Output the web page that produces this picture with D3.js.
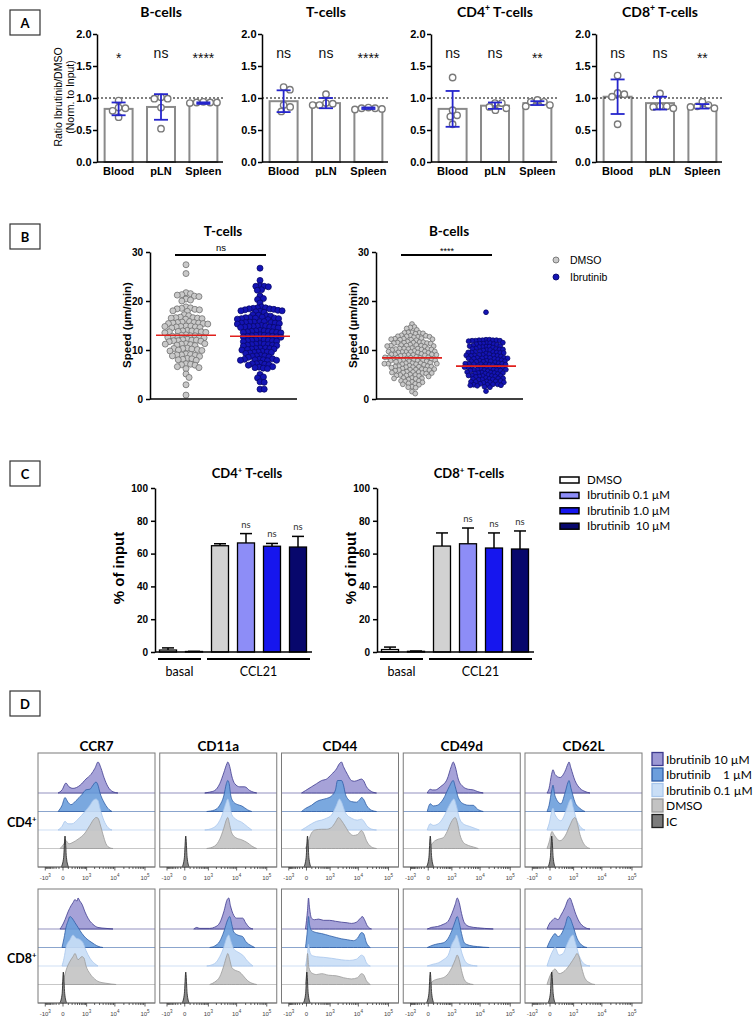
<!DOCTYPE html>
<html>
<head>
<meta charset="utf-8">
<script src="https://cdn.jsdelivr.net/npm/d3@7"></script>
<style>
  body { margin: 0; background: #fff; }
  svg { display: block; }
</style>
</head>
<body>
<svg id="fig" width="754" height="1023"></svg>
<script>
const ARIAL = '"Liberation Sans", Arial, sans-serif';
const CAL = 'Lato, "Open Sans", sans-serif';

// ---------- Panel A : ratio Ibrutinib / DMSO ----------
const aCells = ["B-cells", "T-cells", "CD4+ T-cells", "CD8+ T-cells"];
const aOrgans = ["Blood", "pLN", "Spleen"];
const aMean = [[0.83, 0.86, 0.92], [0.95, 0.92, 0.84], [0.83, 0.88, 0.92], [1.02, 0.92, 0.87]];
const aSD = [[0.10, 0.20, 0.012], [0.17, 0.08, 0.012], [0.28, 0.05, 0.03], [0.27, 0.10, 0.035]];
const aPoints = [
  [[0.96, 0.84, 0.85, 0.70, 0.80], [1.01, 0.99, 0.99, 0.85, 0.52], [0.93, 0.93, 0.92, 0.93, 0.94]],
  [[1.17, 1.13, 0.89, 0.79, 0.86], [1.06, 0.92, 0.89, 0.89, 0.91], [0.84, 0.82, 0.83, 0.84, 0.85]],
  [[1.32, 0.81, 0.59, 0.71, 0.73], [0.92, 0.81, 0.92, 0.86, 0.84], [0.97, 0.94, 0.89, 0.87, 0.94]],
  [[1.35, 1.06, 1.02, 1.08, 0.59], [1.07, 0.87, 0.84, 0.87, 0.86], [0.94, 0.87, 0.86, 0.89, 0.84]]
];
const aSig = [["*", "ns", "****"], ["ns", "ns", "****"], ["ns", "ns", "**"], ["ns", "ns", "**"]];
const aTicks = [0, 0.5, 1, 1.5, 2];

// ---------- Panel B : speed ----------
const bGroups = ["DMSO", "Ibrutinib"];
const tDmso = [27.4, 25.6,
  21.7, 21.5, 21.2, 21.0, 20.9, 21.3, 20.4, 20.2, 20.0,
  18.8, 18.6, 18.5, 18.4, 18.3, 18.2, 18.0, 17.9, 17.2, 17.0,
  16.7, 16.6, 16.5, 16.4, 16.3, 16.6, 16.5,
  15.8, 15.7, 15.6, 15.5, 15.5, 15.4, 15.3, 15.6, 15.4,
  14.9, 14.8, 14.8, 14.7, 14.6, 14.7, 14.9, 14.5,
  13.9, 13.8, 13.8, 13.7, 13.6, 14.0, 13.9, 13.7, 13.5,
  13.0, 12.9, 12.8, 12.8, 12.7, 12.9, 13.1, 12.6, 12.5,
  12.1, 12.0, 11.9, 11.8, 12.0, 12.2, 11.9, 11.7,
  11.3, 11.2, 11.1, 11.0, 11.2, 10.9, 11.3,
  10.4, 10.3, 10.2, 10.1, 10.0, 10.3, 9.9, 9.8,
  9.2, 9.1, 9.0, 8.9, 8.8, 9.0, 8.7,
  8.2, 8.1, 8.0, 7.9, 8.3, 7.2, 7.1, 7.0, 6.9, 6.4, 6.2, 6.6,
  5.1, 4.4, 2.9, 0.8];
const tIbr = [26.7, 24.2, 23.1, 23.0, 22.9, 23.0, 22.3, 22.2, 21.0, 20.5, 20.3, 19.6,
  18.8, 18.6, 18.5, 18.4, 18.3, 18.6, 18.2, 18.4, 18.0, 17.9, 18.1, 17.8, 18.0, 17.7,
  17.1, 17.0, 17.2, 16.9,
  16.6, 16.5, 16.4, 16.5, 16.3, 16.6, 16.2, 16.4, 16.7,
  15.8, 15.7, 15.6, 15.5, 15.6, 15.4, 15.7, 15.3, 15.5, 15.8,
  14.9, 14.8, 14.7, 14.8, 14.6, 14.9, 14.5, 14.7, 15.0, 14.6,
  13.9, 13.8, 13.7, 13.8, 13.6, 14.0, 13.5, 13.9, 13.7, 13.6,
  13.0, 12.9, 12.8, 12.9, 12.7, 13.1, 12.6, 12.8, 13.0, 12.7,
  12.1, 12.0, 11.9, 12.0, 11.8, 12.2, 11.7, 11.9, 12.1,
  11.2, 11.1, 11.0, 11.2, 10.9, 11.3, 10.8, 11.1, 11.0,
  10.4, 10.3, 10.2, 10.1, 10.3, 10.0, 10.4, 10.2,
  9.6, 9.5, 9.4, 9.6, 9.3, 9.7, 9.5,
  8.8, 8.7, 8.6, 8.8, 8.5, 8.9,
  8.1, 8.0, 7.9, 8.1, 7.8, 8.2, 8.0, 7.9,
  7.3, 7.2, 7.1, 7.0, 7.2, 6.9, 6.6, 6.4, 6.3, 6.5, 6.2,
  5.0, 4.5, 4.3, 3.5, 3.4, 2.0, 2.0];
const bDmso = [15.3, 14.7, 14.6, 14.4, 14.1,
  13.6, 13.5, 13.4, 13.6, 13.3, 13.5,
  12.9, 12.8, 12.7, 12.9, 12.6, 12.8, 13.0, 12.7,
  12.3, 12.2, 12.1, 12.3, 12.0, 12.2, 12.4, 12.1,
  11.6, 11.5, 11.4, 11.6, 11.3, 11.5, 11.7, 11.4, 11.5,
  11.0, 10.9, 10.8, 11.0, 10.7, 10.9, 11.1, 10.8, 10.9,
  10.3, 10.2, 10.1, 10.3, 10.0, 10.2, 10.4, 10.1, 10.2, 10.3,
  9.7, 9.6, 9.5, 9.7, 9.4, 9.6, 9.8, 9.5, 9.6, 9.7,
  9.1, 9.0, 8.9, 9.1, 8.8, 9.0, 9.2, 8.9, 9.0, 9.1,
  8.5, 8.4, 8.3, 8.5, 8.2, 8.4, 8.6, 8.3, 8.4, 8.5,
  7.9, 7.8, 7.7, 7.9, 7.6, 7.8, 8.0, 7.7, 7.8, 7.9,
  7.3, 7.2, 7.1, 7.3, 7.0, 7.2, 7.4, 7.1, 7.2, 7.3,
  6.7, 6.6, 6.5, 6.7, 6.4, 6.6, 6.8, 6.5, 6.6,
  6.1, 6.0, 5.9, 6.1, 5.8, 6.0, 6.2, 5.9, 6.0,
  5.5, 5.4, 5.3, 5.5, 5.2, 5.4, 5.6, 5.3,
  4.9, 4.8, 4.7, 4.9, 4.6, 4.8, 5.0,
  4.3, 4.2, 4.1, 4.3, 4.0, 4.2,
  3.7, 3.6, 3.5, 3.7, 3.4, 3.1, 3.0, 2.9, 3.2,
  2.5, 2.4, 2.3, 1.5, 1.1];
const bIbr = [17.7,
  12.1, 12.0, 11.9, 12.0, 11.9, 12.1, 11.8, 12.0, 11.9, 12.0,
  11.4, 11.3, 11.2, 11.4, 11.1, 11.3, 11.5, 11.2,
  10.8, 10.7, 10.6, 10.8, 10.5, 10.7, 10.9, 10.6,
  10.2, 10.1, 10.0, 10.2, 9.9, 10.1, 10.3, 10.0,
  9.6, 9.5, 9.4, 9.6, 9.3, 9.5, 9.7, 9.4, 9.5,
  9.0, 8.9, 8.8, 9.0, 8.7, 8.9, 9.1, 8.8, 8.9,
  8.4, 8.3, 8.2, 8.4, 8.1, 8.3, 8.5, 8.2, 8.3, 8.4,
  7.8, 7.7, 7.6, 7.8, 7.5, 7.7, 7.9, 7.6, 7.7,
  7.2, 7.1, 7.0, 7.2, 6.9, 7.1, 7.3, 7.0, 7.1, 7.2,
  6.6, 6.5, 6.4, 6.6, 6.3, 6.5, 6.7, 6.4, 6.5, 6.6,
  6.0, 5.9, 5.8, 6.0, 5.7, 5.9, 6.1, 5.8, 5.9, 6.0,
  5.4, 5.3, 5.2, 5.4, 5.1, 5.3, 5.5, 5.2, 5.3,
  4.8, 4.7, 4.6, 4.8, 4.5, 4.7, 4.9, 4.6, 4.7,
  4.2, 4.1, 4.0, 4.2, 3.9, 4.1, 4.3, 4.0,
  3.6, 3.5, 3.4, 3.6, 3.3, 3.5, 3.7, 3.4,
  3.0, 2.9, 2.8, 3.0, 2.7, 2.9, 3.1, 2.8,
  2.5, 2.4, 1.6];
const tMedian = [13.0, 12.8];
const bMedian = [8.4, 6.7];

// ---------- Panel C : transwell migration ----------
const cConds = ["DMSO", "Ibrutinib 0.1 µM", "Ibrutinib 1.0 µM", "Ibrutinib  10 µM"];
const cd4Basal = [1.2, 0.3], cd4BasalErr = [2.5, 0.4];
const cd4Ccl21 = [64.8, 66.5, 64.5, 64.0], cd4Ccl21Err = [66.0, 72.2, 66.2, 70.5];
const cd8Basal = [1.5, 0.4], cd8BasalErr = [3.0, 0.6];
const cd8Ccl21 = [64.6, 66.0, 63.4, 62.8], cd8Ccl21Err = [72.6, 75.6, 72.6, 73.8];
const cSig = ["", "ns", "ns", "ns"];

// ---------- Panel D : flow histograms, knots [fluorescence, mode-normalised count] ----------
const dMarkers = ["CCR7", "CD11a", "CD44", "CD49d", "CD62L"];
const dConds = ["Ibrutinib 10 µM", "Ibrutinib    1 µM", "Ibrutinib 0.1 µM", "DMSO", "IC"];
const dTicks = [-1000, 0, 1000, 10000, 100000];
const dTickLabels = [["-10", "3"], ["0", ""], ["10", "3"], ["10", "4"], ["10", "5"]];

const cd4CCR7 = [
  [[-130,0],[-20,0.1],[50,0.32],[115,0.2],[230,0.15],[530,0.25],[940,0.45],[1470,0.6],[2060,0.8],[2640,1],[3370,0.8],[4280,0.5],[5870,0.2],[8660,0.04],[12700,0]],
  [[-130,0],[-20,0.2],[33,0.45],[92,0.3],[167,0.22],[336,0.35],[644,0.55],[944,0.7],[1349,0.72],[1744,0.85],[2241,0.95],[2640,0.85],[3105,0.6],[4277,0.3],[5866,0.1],[8014,0]],
  [[-130,0],[-20,0.12],[33,0.28],[92,0.2],[196,0.2],[424,0.35],[861,0.6],[1349,0.8],[1744,0.95],[2241,1],[2640,0.95],[3105,0.7],[4277,0.3],[5866,0.08],[8014,0]],
  [[-70,0],[16,0.15],[51,0.25],[115,0.15],[227,0.2],[424,0.3],[861,0.5],[1349,0.75],[1897,0.95],[2241,1],[2640,0.98],[3105,0.8],[3952,0.45],[5011,0.15],[6856,0.02],[8660,0]],
  [[-40,0],[10,0.3],[33,1],[60,0.3],[105,0]]
];
const cd4CD11a = [
  [[711,0],[1131,0.03],[1744,0.08],[2640,0.3],[3648,0.65],[4700,0.95],[5011,1],[5866,0.85],[6856,0.55],[8660,0.3],[12740,0.2],[18700,0.2],[27420,0.08],[46780,0]],
  [[861,0],[1744,0.05],[2640,0.2],[3648,0.5],[4500,0.9],[5011,1],[5600,0.9],[6400,0.5],[8014,0.3],[11000,0.22],[14850,0.18],[23530,0.05],[32000,0]],
  [[711,0],[1349,0.05],[2241,0.2],[3105,0.45],[4277,0.85],[5011,1],[5866,0.8],[6856,0.5],[9360,0.35],[14850,0.25],[23530,0.1],[32000,0]],
  [[861,0],[1744,0.08],[2640,0.3],[3648,0.65],[4600,0.95],[5011,1],[5866,0.75],[6856,0.5],[9360,0.35],[14850,0.28],[23530,0.18],[32000,0.08],[46780,0]],
  [[-60,0],[-8,0.3],[16,1],[40,0.3],[80,0]]
];
const cd4CD44 = [
  [[-130,0],[-20,0.08],[92,0.2],[227,0.3],[424,0.4],[711,0.45],[1131,0.6],[1744,0.78],[2241,0.95],[2640,1],[3105,0.85],[4277,0.6],[5866,0.4],[7400,0.38],[10140,0.42],[12740,0.45],[14850,0.4],[18700,0.2],[27420,0.05],[40160,0]],
  [[-130,0],[-20,0.1],[92,0.2],[227,0.32],[424,0.38],[711,0.42],[1131,0.5],[1600,0.7],[1897,1],[2640,1],[3105,0.85],[3648,0.55],[4277,0.42],[5866,0.32],[8660,0.3],[11000,0.38],[12740,0.45],[14850,0.4],[18700,0.2],[27420,0.04],[40160,0]],
  [[-130,0],[-20,0.08],[92,0.2],[227,0.28],[424,0.32],[711,0.38],[1131,0.48],[1744,0.8],[2241,1],[2640,0.9],[3648,0.55],[5866,0.38],[9360,0.32],[12740,0.35],[14850,0.3],[18700,0.15],[27420,0.03],[40160,0]],
  [[-21,0],[33,0.25],[92,0.5],[196,0.6],[424,0.62],[711,0.62],[1131,0.68],[1600,0.85],[2062,1],[2640,0.9],[3648,0.7],[5011,0.5],[6856,0.42],[9360,0.45],[12740,0.58],[14850,0.5],[18700,0.25],[27420,0.05],[40160,0]],
  [[-60,0],[-8,0.3],[16,1],[40,0.3],[80,0]]
];
const cd4CD49d = [
  [[-21,0],[33,0.12],[70,0.1],[140,0.1],[300,0.2],[640,0.45],[940,0.85],[1131,1],[1350,0.85],[1744,0.45],[2640,0.2],[4000,0.12],[5900,0.1],[8000,0.05],[12700,0]],
  [[-21,0],[33,0.25],[92,0.18],[196,0.2],[424,0.4],[780,0.8],[1131,1],[1349,0.8],[1744,0.45],[2640,0.25],[4277,0.2],[5866,0.2],[8014,0.08],[12740,0]],
  [[-21,0],[33,0.2],[92,0.15],[227,0.2],[424,0.4],[860,0.85],[1200,1],[1470,0.8],[1897,0.4],[2640,0.2],[4277,0.12],[6856,0.05],[9360,0]],
  [[16,0],[92,0.2],[227,0.3],[424,0.35],[640,0.55],[940,0.85],[1350,1],[1600,0.85],[2000,0.45],[2640,0.2],[3952,0.1],[5866,0.05],[8660,0]],
  [[-40,0],[10,0.3],[33,1],[60,0.3],[105,0]]
];
const cd4CD62L = [
  [[-71,0],[-20,0.15],[25,0.6],[51,0.75],[92,0.6],[227,0.5],[424,0.7],[590,0.95],[644,1],[783,0.8],[1131,0.4],[1744,0.15],[2640,0.05],[3952,0]],
  [[-71,0],[-20,0.2],[30,0.7],[51,0.85],[92,0.5],[260,0.25],[424,0.6],[590,0.95],[644,1],[783,0.75],[1131,0.3],[1744,0.1],[2640,0]],
  [[-71,0],[-20,0.2],[51,0.7],[92,0.5],[260,0.3],[520,0.7],[700,0.95],[783,1],[944,0.75],[1349,0.3],[1897,0.08],[2640,0]],
  [[-71,0],[-20,0.2],[33,0.55],[70,0.45],[227,0.25],[424,0.4],[711,0.75],[944,0.95],[1131,1],[1350,0.85],[1744,0.45],[2640,0.1],[3952,0]],
  [[-45,0],[5,0.3],[28,1],[55,0.3],[95,0]]
];
const cd8CCR7 = [
  [[-71,0],[-20,0.1],[33,0.3],[92,0.55],[167,0.75],[227,0.85],[297,0.95],[380,0.9],[424,1],[520,0.9],[644,0.8],[861,0.55],[1131,0.35],[1744,0.15],[2640,0.05],[5000,0.02],[8660,0]],
  [[-21,0],[16,0.3],[51,0.65],[92,0.85],[140,1],[196,0.95],[297,0.8],[424,0.65],[644,0.45],[944,0.3],[1349,0.2],[2000,0.1],[2640,0.04],[3952,0]],
  [[-21,0],[16,0.25],[51,0.6],[140,0.85],[227,1],[336,0.9],[530,0.85],[711,0.75],[944,0.5],[1349,0.25],[2000,0.08],[2640,0]],
  [[-21,0],[16,0.2],[51,0.45],[140,0.75],[227,0.9],[297,1],[424,0.8],[644,0.9],[783,0.85],[944,0.6],[1349,0.35],[2000,0.18],[2640,0.1],[5011,0.04],[11000,0]],
  [[-75,0],[-18,0.3],[5,1],[28,0.3],[65,0]]
];
const cd8CD11a = [
  [[196,0],[297,0.05],[424,0.02],[1131,0.02],[1744,0.06],[2640,0.2],[3648,0.55],[4800,0.95],[5421,1],[6200,0.75],[7500,0.5],[10000,0.35],[16040,0.35],[20000,0.2],[27420,0.04],[35000,0]],
  [[1131,0],[1744,0.05],[2640,0.2],[3648,0.5],[5011,0.9],[5866,1],[6856,0.75],[8014,0.5],[11000,0.4],[16040,0.35],[20000,0.2],[31950,0.05],[40160,0]],
  [[861,0],[1744,0.08],[2640,0.3],[3648,0.6],[4600,0.9],[5421,1],[6400,0.8],[8014,0.55],[11000,0.45],[16040,0.35],[23530,0.15],[35000,0]],
  [[1131,0],[1744,0.08],[2640,0.25],[3648,0.6],[4600,0.92],[5011,1],[5866,0.8],[6856,0.55],[9360,0.45],[12740,0.4],[16040,0.3],[23530,0.12],[35000,0.03],[46780,0]],
  [[-60,0],[-8,0.3],[16,1],[40,0.3],[80,0]]
];
const cd8CD44 = [
  [[-21,0],[16,0.6],[33,1],[51,0.7],[92,0.35],[167,0.3],[300,0.32],[530,0.28],[940,0.28],[1600,0.25],[2640,0.22],[4277,0.2],[5866,0.18],[8660,0.22],[11000,0.32],[13760,0.4],[16040,0.3],[20000,0.1],[27420,0]],
  [[-21,0],[16,0.6],[33,1],[51,0.75],[92,0.55],[227,0.48],[424,0.45],[940,0.38],[1744,0.32],[2640,0.28],[4277,0.25],[6856,0.22],[9360,0.3],[12740,0.48],[14850,0.45],[18700,0.15],[25000,0]],
  [[-21,0],[16,0.4],[33,0.7],[51,0.5],[92,0.35],[227,0.3],[530,0.28],[1131,0.25],[2641,0.2],[5011,0.18],[8660,0.22],[12740,0.35],[14850,0.32],[18700,0.1],[25000,0]],
  [[-21,0],[5,0.5],[16,1],[40,0.55],[92,0.38],[227,0.32],[424,0.35],[860,0.3],[1744,0.28],[3105,0.22],[5866,0.18],[9360,0.22],[12740,0.35],[14850,0.32],[18700,0.12],[25000,0]],
  [[-75,0],[-18,0.3],[5,1],[28,0.3],[65,0]]
];
const cd8CD49d = [
  [[-21,0],[50,0.05],[200,0.08],[424,0.15],[700,0.25],[1000,0.5],[1349,0.8],[1600,1],[1897,0.85],[2300,0.5],[2900,0.2],[4277,0.08],[8014,0.04],[14000,0.02],[27420,0]],
  [[-21,0],[92,0.08],[227,0.12],[424,0.15],[711,0.3],[1000,0.55],[1349,0.85],[1603,1],[1897,0.8],[2300,0.45],[2900,0.15],[4277,0.07],[8014,0.03],[20000,0]],
  [[-21,0],[92,0.06],[227,0.1],[424,0.2],[711,0.35],[1000,0.7],[1349,0.9],[1500,1],[1897,0.75],[2400,0.4],[3105,0.15],[4277,0.05],[8014,0]],
  [[16,0],[92,0.12],[227,0.18],[424,0.22],[711,0.35],[1000,0.55],[1349,0.8],[1603,0.95],[1897,0.8],[2300,0.45],[2900,0.15],[3952,0.04],[5866,0]],
  [[-40,0],[10,0.3],[33,1],[60,0.3],[105,0]]
];
const cd8CD62L = [
  [[-71,0],[-21,0.15],[51,0.3],[92,0.35],[167,0.3],[260,0.45],[424,0.7],[590,0.95],[711,1],[861,0.85],[1131,0.55],[1600,0.25],[2640,0.05],[3952,0]],
  [[-71,0],[-21,0.15],[51,0.38],[92,0.45],[167,0.35],[260,0.42],[424,0.7],[590,1],[711,0.95],[944,0.7],[1349,0.3],[2000,0.08],[3105,0]],
  [[-71,0],[-21,0.2],[51,0.5],[92,0.6],[196,0.35],[336,0.4],[530,0.7],[783,0.95],[944,1],[1131,0.8],[1600,0.35],[2640,0.05],[3952,0]],
  [[-71,0],[-21,0.2],[51,0.45],[92,0.5],[196,0.35],[424,0.45],[711,0.65],[1131,0.9],[1349,1],[1600,0.9],[2062,0.5],[2640,0.2],[3952,0.05],[5866,0]],
  [[-45,0],[5,0.3],[28,1],[55,0.3],[95,0]]
];
const dRowLabels = ["CD4+", "CD8+"];
const dCD4 = [cd4CCR7, cd4CD11a, cd4CD44, cd4CD49d, cd4CD62L];
const dCD8 = [cd8CCR7, cd8CD11a, cd8CD44, cd8CD49d, cd8CD62L];

const svg = d3.select("#fig");

// text with a superscript "+" (CD4+ etc.)
function supText(sel, str, size) {
  let m = str.split("+");
  sel.append("tspan").text(m[0]);
  if (m.length > 1) {
    sel.append("tspan").attr("font-size", size * 0.62).attr("dy", -size * 0.4).text("+");
    sel.append("tspan").attr("dy", size * 0.4).text(m[1]);
  }
  return sel;
}

function panelLabel(letter, x, y) {
  svg.append("rect").attr("x", x).attr("y", y).attr("width", 30).attr("height", 25)
    .attr("fill", "none").attr("stroke", "#333").attr("stroke-width", 1.2);
  svg.append("text").attr("x", x + 15).attr("y", y + 17.5)
    .attr("text-anchor", "middle").attr("font-family", CAL).attr("font-weight", "bold")
    .attr("font-size", 13).text(letter);
}

function styleAxis(g, size) {
  g.attr("font-family", null).attr("font-size", null);
  g.select(".domain").attr("stroke", "#000").attr("stroke-width", 1.5);
  g.selectAll(".tick line").attr("stroke", "#000").attr("stroke-width", 1.5);
  g.selectAll(".tick text").attr("font-family", ARIAL).attr("font-size", size)
    .attr("font-weight", "bold").attr("fill", "#000");
}

// simple beeswarm: place each point as close to the centre as possible
function swarm(values, y, sep) {
  let pts = values.map(v => ({ v: v, y: y(v), x: 0 })).sort((a, b) => a.y - b.y);
  let placed = [];
  pts.forEach(p => {
    let near = placed.filter(q => Math.abs(q.y - p.y) < sep);
    let cands = [0];
    near.forEach(q => {
      let dx = Math.sqrt(sep * sep - (q.y - p.y) ** 2);
      cands.push(q.x + dx, q.x - dx);
    });
    cands.sort((a, b) => Math.abs(a) - Math.abs(b));
    p.x = cands.find(c => near.every(q => (q.x - c) ** 2 + (q.y - p.y) ** 2 >= sep * sep - 1e-6));
    placed.push(p);
  });
  return pts;
}

// ================= A =================
function drawA() {
  panelLabel("A", 10, 10);
  let y = d3.scaleLinear().domain([0, 2]).range([162, 34]);
  let x0s = [97, 262, 431, 596];

  aCells.forEach((cell, i) => {
    let x0 = x0s[i];
    let x = d3.scaleBand().domain(aOrgans).range([x0, x0 + 128]).paddingInner(0.34).paddingOuter(0.18);
    let bw = x.bandwidth();
    let g = svg.append("g");

    supText(g.append("text").attr("x", x0 + 64).attr("y", 17).attr("text-anchor", "middle")
      .attr("font-family", CAL).attr("font-weight", "bold").attr("font-size", 14), cell, 14);

    g.selectAll("rect.bar").data(aOrgans).enter().append("rect")
      .attr("x", d => x(d)).attr("width", bw)
      .attr("y", (d, j) => y(aMean[i][j]))
      .attr("height", (d, j) => y(0) - y(aMean[i][j]))
      .attr("fill", "#fff").attr("stroke", "#8a8a8a").attr("stroke-width", 2);

    g.append("line").attr("x1", x0).attr("x2", x0 + 128).attr("y1", y(1)).attr("y2", y(1))
      .attr("stroke", "#000").attr("stroke-width", 1.2).attr("stroke-dasharray", "2,2");

    aOrgans.forEach((o, j) => {
      let cx = x(o) + bw / 2;
      swarm(aPoints[i][j], y, 6.8).forEach(p => {
        g.append("circle").attr("cx", cx + p.x).attr("cy", p.y).attr("r", 3.2)
          .attr("fill", "#fff").attr("stroke", "#7a7a7a").attr("stroke-width", 1.4);
      });
      let lo = y(aMean[i][j] - aSD[i][j]), hi = y(aMean[i][j] + aSD[i][j]);
      let eb = g.append("g").attr("stroke", "#2525cc").attr("stroke-width", 1.8);
      eb.append("line").attr("x1", cx).attr("x2", cx).attr("y1", lo).attr("y2", hi);
      eb.append("line").attr("x1", cx - 7).attr("x2", cx + 7).attr("y1", lo).attr("y2", lo);
      eb.append("line").attr("x1", cx - 7).attr("x2", cx + 7).attr("y1", hi).attr("y2", hi);

      let s = aSig[i][j];
      g.append("text").attr("x", cx).attr("y", s === "ns" ? 57.5 : 63).attr("text-anchor", "middle")
        .attr("font-family", ARIAL).attr("font-size", 14).attr("fill", "#111").text(s);
      g.append("text").attr("x", cx).attr("y", 175).attr("text-anchor", "middle")
        .attr("font-family", ARIAL).attr("font-weight", "bold").attr("font-size", 11).text(o);
    });

    let ax = g.append("g").attr("transform", "translate(" + x0 + ",0)")
      .call(d3.axisLeft(y).tickValues(aTicks).tickFormat(d3.format(".1f"))
        .tickSize(4).tickPadding(1.5).tickSizeOuter(0));
    styleAxis(ax, 11);
    g.append("line").attr("x1", x0).attr("x2", x0 + 126).attr("y1", y(0)).attr("y2", y(0))
      .attr("stroke", "#000").attr("stroke-width", 1.5);
  });

  let lab = svg.append("text").attr("transform", "translate(62,97) rotate(-90)")
    .attr("text-anchor", "middle").attr("font-family", ARIAL).attr("font-size", 10.5);
  lab.append("tspan").attr("x", 0).attr("y", 0).text("Ratio Ibrutinib/DMSO");
  lab.append("tspan").attr("x", 0).attr("y", 12).text("(Norm. to Input)");
}

// ================= B =================
function drawB(x0, title, groups, medians, sig, labelX, seps, r) {
  let y = d3.scaleLinear().domain([0, 30]).range([399, 252]);
  let x = d3.scalePoint().domain(bGroups).range([x0 + 36, x0 + 110]);
  let g = svg.append("g");

  g.append("text").attr("x", x0 + 73).attr("y", 236).attr("text-anchor", "middle")
    .attr("font-family", CAL).attr("font-weight", "bold").attr("font-size", 13.5).text(title);

  groups.forEach((vals, k) => {
    let cx = x(bGroups[k]);
    swarm(vals, y, seps[k]).forEach(p => {
      g.append("circle").attr("cx", cx + p.x).attr("cy", p.y).attr("r", r)
        .attr("fill", k === 0 ? "#c9c9c9" : "#1414b4")
        .attr("stroke", k === 0 ? "#707070" : "#07076a").attr("stroke-width", 0.8);
    });
    g.append("line").attr("x1", cx - 30).attr("x2", cx + 30)
      .attr("y1", y(medians[k])).attr("y2", y(medians[k]))
      .attr("stroke", "#e0201c").attr("stroke-width", 1.6);
  });

  g.append("line").attr("x1", x0 + 25).attr("x2", x0 + 116).attr("y1", 255).attr("y2", 255)
    .attr("stroke", "#000").attr("stroke-width", 2);
  g.append("text").attr("x", x0 + 71).attr("y", sig === "ns" ? 251 : 254).attr("text-anchor", "middle")
    .attr("font-family", ARIAL).attr("font-size", sig === "ns" ? 9.5 : 9).text(sig);

  let ax = g.append("g").attr("transform", "translate(" + x0 + ",0)")
    .call(d3.axisLeft(y).tickValues([0, 10, 20, 30]).tickSize(4).tickSizeOuter(0));
  styleAxis(ax, 10);
  g.append("line").attr("x1", x0).attr("x2", x0 + 147).attr("y1", y(0)).attr("y2", y(0))
    .attr("stroke", "#000").attr("stroke-width", 1.5);

  g.append("text").attr("transform", "translate(" + labelX + ",325) rotate(-90)")
    .attr("text-anchor", "middle").attr("font-family", ARIAL).attr("font-weight", "bold")
    .attr("font-size", 11.5).text("Speed (µm/min)");
}

function drawBLegend() {
  let fills = ["#c9c9c9", "#1414b4"], strokes = ["#707070", "#07076a"];
  bGroups.forEach((n, k) => {
    let yy = 260 + k * 17;
    svg.append("circle").attr("cx", 556).attr("cy", yy).attr("r", 3)
      .attr("fill", fills[k]).attr("stroke", strokes[k]).attr("stroke-width", 0.9);
    svg.append("text").attr("x", 570).attr("y", yy + 4).attr("font-family", ARIAL)
      .attr("font-size", 10.5).text(n);
  });
}

// ================= C =================
const cFill = ["#d2d2d2", "#8d8df7", "#1616ee", "#07076c"];
const cBasalFill = ["#ffffff", "#07076c"];

function drawC(x0, title, basal, basalErr, ccl, cclErr, labelX) {
  let y = d3.scaleLinear().domain([0, 100]).range([652, 488]);
  let x = d3.scalePoint().domain(d3.range(6)).range([x0 + 13, x0 + 143]);
  let bw = 17;
  let g = svg.append("g");
  let vals = basal.concat(ccl), errs = basalErr.concat(cclErr);
  let fills = cBasalFill.concat(cFill);

  supText(g.append("text").attr("x", x0 + 92).attr("y", 478).attr("text-anchor", "middle")
    .attr("font-family", CAL).attr("font-weight", "bold").attr("font-size", 13), title, 13);

  vals.forEach((v, k) => {
    let cx = x(k);
    g.append("line").attr("x1", cx).attr("x2", cx).attr("y1", y(v)).attr("y2", y(errs[k]))
      .attr("stroke", "#000").attr("stroke-width", 1.5);
    g.append("line").attr("x1", cx - 6).attr("x2", cx + 6).attr("y1", y(errs[k])).attr("y2", y(errs[k]))
      .attr("stroke", "#000").attr("stroke-width", 1.5);
    g.append("rect").attr("x", cx - bw / 2).attr("width", bw).attr("y", y(v))
      .attr("height", y(0) - y(v)).attr("fill", fills[k])
      .attr("stroke", "#000").attr("stroke-width", 1.3);
    if (k >= 2 && cSig[k - 2]) {
      g.append("text").attr("x", cx).attr("y", y(errs[k]) - 6).attr("text-anchor", "middle")
        .attr("font-family", CAL).attr("font-size", 9.5).attr("fill", "#333").text(cSig[k - 2]);
    }
  });

  let ax = g.append("g").attr("transform", "translate(" + x0 + ",0)")
    .call(d3.axisLeft(y).tickValues([0, 20, 40, 60, 80, 100]).tickSize(4).tickSizeOuter(0));
  styleAxis(ax, 10);
  g.append("line").attr("x1", x0).attr("x2", x0 + 157).attr("y1", y(0)).attr("y2", y(0))
    .attr("stroke", "#000").attr("stroke-width", 1.5);

  // group brackets
  let groups = [["basal", x(0) - 10, x(1) + 7], ["CCL21", x(2) - 13, x(5) + 12]];
  groups.forEach(gr => {
    g.append("line").attr("x1", gr[1]).attr("x2", gr[2]).attr("y1", 659).attr("y2", 659)
      .attr("stroke", "#000").attr("stroke-width", 2);
    g.append("text").attr("x", (gr[1] + gr[2]) / 2).attr("y", 676).attr("text-anchor", "middle")
      .attr("font-family", CAL).attr("font-size", 12.5).text(gr[0]);
  });

  g.append("text").attr("transform", "translate(" + labelX + ",568) rotate(-90)")
    .attr("text-anchor", "middle").attr("font-family", ARIAL).attr("font-weight", "bold")
    .attr("font-size", 15).text("% of input");
}

function drawCLegend() {
  let fills = ["#ffffff"].concat(cFill.slice(1));
  cConds.forEach((n, k) => {
    let yy = 480 + k * 15.4;
    svg.append("rect").attr("x", 560).attr("y", yy - 3).attr("width", 19).attr("height", 6)
      .attr("fill", fills[k]).attr("stroke", "#000").attr("stroke-width", 1.5);
    svg.append("text").attr("x", 587).attr("y", yy + 4).attr("font-family", CAL)
      .attr("font-size", 11.5).attr("xml:space", "preserve").style("white-space", "pre").text(n);
  });
}

// ================= D =================
const dFill = ["#9c98d4", "#6c9edc", "#c9def6", "#c3c3c3", "#7c7c7c"];
const dStroke = ["#3d3a8e", "#2f5da6", "#a9c7ec", "#9a9a9a", "#1e1e1e"];

function drawD() {
  let xBox = d3.scaleBand().domain(dMarkers).range([38, 642]).paddingInner(0.039);
  let w = xBox.bandwidth();
  // biexponential-like display transform, negative side compressed
  let biex = v => v < 0 ? -0.75 * Math.log1p(-v / 200) : Math.log1p(v / 200);
  let xv = d3.scaleLinear().domain([-1.895, 6.975]).range([0, w]);
  let hs = d3.scaleLinear().domain([0, 1]).range([0, 31]);
  let rows = [dCD4, dCD8], tops = [753, 889];

  let minor = [];
  for (let v = -900; v <= 900; v += 100) if (v !== 0) minor.push(v);
  [1000, 10000].forEach(dec => { for (let m = 2; m <= 9; m++) minor.push(m * dec); });

  rows.forEach((row, ri) => {
    let top = tops[ri], bottom = top + 114;
    let base = d3.scalePoint().domain(dConds).range([bottom - 74, bottom]);

    row.forEach((curves, mi) => {
      let left = xBox(dMarkers[mi]);
      let g = svg.append("g").attr("transform", "translate(" + left + ",0)");
      curves.forEach((c, ci) => {
        let b = base(dConds[ci]);
        g.append("line").attr("x1", 0).attr("x2", w).attr("y1", b).attr("y2", b)
          .attr("stroke", dStroke[ci]).attr("stroke-opacity", 0.7).attr("stroke-width", 0.8);
        let area = d3.area().x(d => xv(biex(d[0]))).y0(b).y1(d => b - hs(d[1]))
          .curve(d3.curveMonotoneX);
        g.append("path").datum(c).attr("d", area)
          .attr("fill", dFill[ci]).attr("fill-opacity", 0.9)
          .attr("stroke", dStroke[ci]).attr("stroke-width", 0.8);
      });
      g.append("rect").attr("x", 0).attr("y", top).attr("width", w).attr("height", 114)
        .attr("fill", "none").attr("stroke", "#7a7a7a").attr("stroke-width", 1);

      // axis
      let axg = g.append("g").attr("stroke", "#222").attr("stroke-width", 0.7);
      minor.forEach(v => {
        axg.append("line").attr("x1", xv(biex(v))).attr("x2", xv(biex(v)))
          .attr("y1", bottom).attr("y2", bottom + 2);
      });
      dTicks.forEach((v, k) => {
        axg.append("line").attr("x1", xv(biex(v))).attr("x2", xv(biex(v)))
          .attr("y1", bottom).attr("y2", bottom + 3.5);
        let t = g.append("text").attr("x", xv(biex(v))).attr("y", bottom + 13)
          .attr("text-anchor", "middle").attr("font-family", ARIAL).attr("font-size", 6)
          .attr("fill", "#444");
        t.append("tspan").text(dTickLabels[k][0]);
        if (dTickLabels[k][1]) t.append("tspan").attr("font-size", 4.5).attr("dy", -3).text(dTickLabels[k][1]);
      });

      if (ri === 0) {
        g.append("text").attr("x", w / 2).attr("y", 751).attr("text-anchor", "middle")
          .attr("font-family", CAL).attr("font-weight", "bold").attr("font-size", 13.5).text(dMarkers[mi]);
      }
    });

    supText(svg.append("text").attr("x", 7).attr("y", top + 74).attr("font-family", CAL)
      .attr("font-weight", "bold").attr("font-size", 12.5), dRowLabels[ri], 12.5);
  });

  // legend
  dConds.forEach((n, k) => {
    let yy = 759 + k * 15.5;
    svg.append("rect").attr("x", 652).attr("y", yy - 6.5).attr("width", 11).attr("height", 13)
      .attr("fill", dFill[k]).attr("stroke", dStroke[k]).attr("stroke-width", 1.3);
    svg.append("text").attr("x", 666).attr("y", yy + 4.5).attr("font-family", CAL)
      .attr("font-size", 12).attr("xml:space", "preserve").style("white-space", "pre").text(n);
  });
}

drawA();
panelLabel("B", 10, 224);
drawB(150, "T-cells", [tDmso, tIbr], tMedian, "ns", 131, [4.6, 4.2], 3.0);
drawB(376, "B-cells", [bDmso, bIbr], bMedian, "****", 357, [3.8, 3.5], 2.4);
drawBLegend();
panelLabel("C", 10, 461);
drawC(155, "CD4+ T-cells", cd4Basal, cd4BasalErr, cd4Ccl21, cd4Ccl21Err, 124);
drawC(377, "CD8+ T-cells", cd8Basal, cd8BasalErr, cd8Ccl21, cd8Ccl21Err, 356);
drawCLegend();
panelLabel("D", 10, 691);
drawD();
</script>
</body>
</html>
